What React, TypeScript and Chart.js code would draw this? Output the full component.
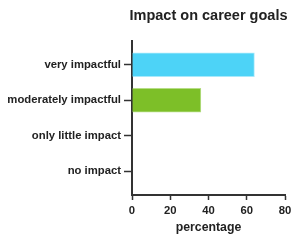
import React, { useEffect, useRef } from "react";
import { Chart, registerables } from "chart.js";

Chart.register(...registerables);

const title = "Impact on career goals";
const categories = ["very impactful", "moderately impactful", "only little impact", "no impact"];
const values = [64, 36, 0, 0];
const barColors = ["#4DD3F7", "#7DBF28", "#4DD3F7", "#7DBF28"];
const barBorders = ["#A8E9FB", "#B6DD86", "#A8E9FB", "#B6DD86"];
const xTicks = [0, 20, 40, 60, 80];
const xTitle = "percentage";

const FONT = "'Liberation Sans', Arial, Helvetica, sans-serif";
const TEXT = "#222222";
const AXIS = "#333333";

const titlePlugin = {
  id: "centeredTitle",
  afterDraw(chart: any) {
    const { ctx, chartArea } = chart;
    ctx.save();
    ctx.font = `bold 14.5px ${FONT}`;
    ctx.fillStyle = TEXT;
    ctx.textAlign = "center";
    ctx.textBaseline = "middle";
    ctx.fillText(title, (chartArea.left + chartArea.right) / 2, 16);
    ctx.restore();
  },
};

export default function App() {
  const ref = useRef<HTMLCanvasElement>(null);

  useEffect(() => {
    if (!ref.current) return;
    const chart = new Chart(ref.current, {
      type: "bar",
      data: {
        datasets: [
          {
            data: categories.map((c, i) => ({ x: values[i], y: i })),
            backgroundColor: barColors,
            borderColor: barBorders,
            borderWidth: 1,
            borderSkipped: "start",
            barThickness: 24,
          },
        ],
      },
      options: {
        indexAxis: "y",
        animation: false,
        responsive: true,
        maintainAspectRatio: false,
        layout: { padding: { top: 41, right: 15, left: 0, bottom: 0 } },
        plugins: {
          legend: { display: false },
          tooltip: { enabled: false },
          title: { display: false },
        },
        scales: {
          x: {
            type: "linear",
            position: "bottom",
            min: xTicks[0],
            max: xTicks[xTicks.length - 1],
            afterBuildTicks: (scale: any) => {
              scale.ticks = xTicks.map((v) => ({ value: v }));
            },
            afterFit: (scale: any) => {
              scale.height = 51;
              scale.paddingLeft = 0;
              scale.paddingRight = 0;
            },
            grid: {
              drawOnChartArea: false,
              drawTicks: true,
              tickLength: 5,
              tickColor: AXIS,
              tickWidth: 1.5,
            },
            border: { display: true, color: AXIS, width: 2 },
            ticks: {
              color: TEXT,
              padding: 4,
              maxRotation: 0,
              font: { family: FONT, size: 11.3, weight: "bold" },
            },
            title: {
              display: true,
              text: xTitle,
              color: TEXT,
              padding: { top: 0, bottom: 10.6 },
              font: { family: FONT, size: 12.3, weight: "bold" },
            },
          },
          y: {
            type: "linear",
            reverse: true,
            offset: false,
            min: -0.67,
            max: categories.length - 1 + 0.67,
            afterBuildTicks: (scale: any) => {
              scale.ticks = categories.map((_, i) => ({ value: i }));
            },
            afterFit: (scale: any) => {
              scale.width = 132;
              scale.paddingTop = 0;
              scale.paddingBottom = 0;
            },
            grid: {
              offset: false,
              drawOnChartArea: false,
              drawTicks: true,
              tickLength: 8,
              tickColor: AXIS,
              tickWidth: 1.5,
            },
            border: { display: true, color: AXIS, width: 2 },
            ticks: {
              color: TEXT,
              padding: 3,
              callback: (v: any) => categories[v as number],
              font: { family: FONT, size: 11.3, weight: "bold" },
            },
          },
        },
      },
      plugins: [titlePlugin],
    });
    return () => chart.destroy();
  }, []);

  return (
    <div style={{ position: "fixed", left: 0, top: 0, width: 300, height: 246, background: "#ffffff" }}>
      <canvas ref={ref} />
    </div>
  );
}
